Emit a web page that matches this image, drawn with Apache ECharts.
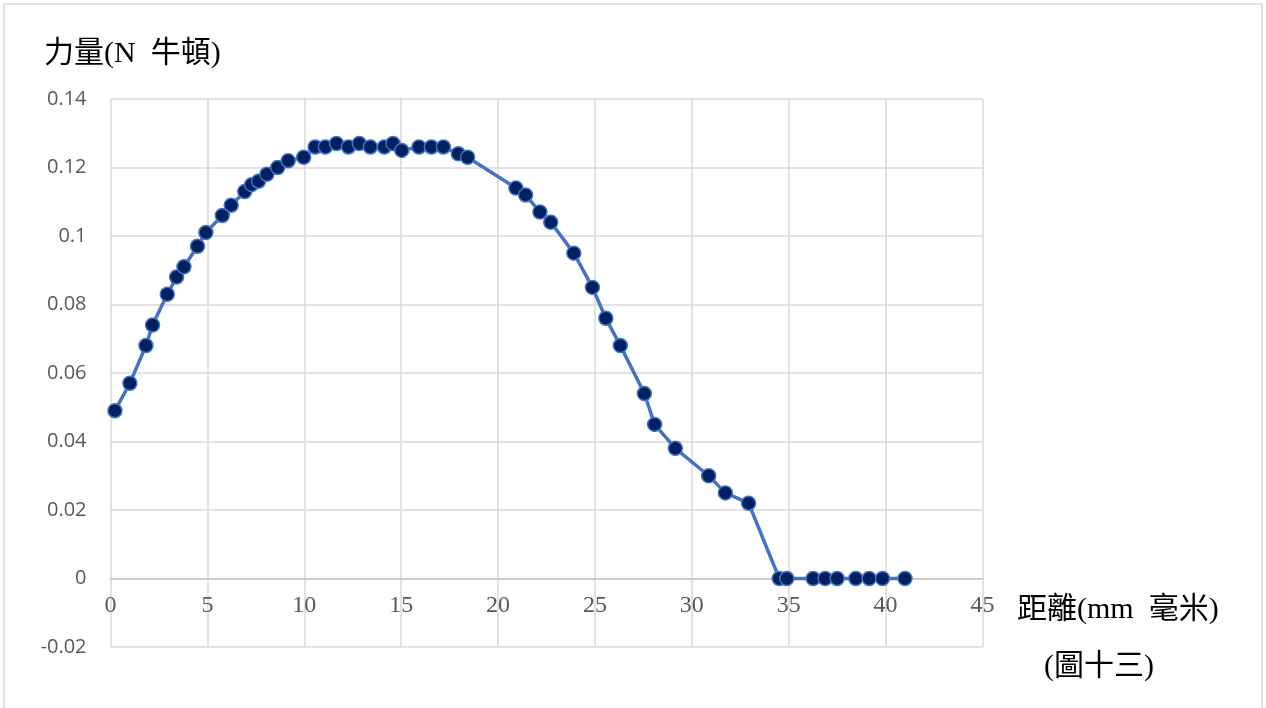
<!DOCTYPE html>
<html>
<head>
<meta charset="utf-8">
<script src="https://cdn.jsdelivr.net/npm/echarts@6/dist/echarts.min.js"></script>
<style>
html,body{margin:0;padding:0;background:#fff;}
#c{width:1266px;height:708px;}
</style>
</head>
<body>
<div id="c"></div>
<script>
// Distance (mm) values
const distance = [0.23, 1.0, 1.83, 2.17, 2.93, 3.41, 3.79, 4.49, 4.92, 5.77, 6.23, 6.93, 7.28, 7.64, 8.07, 8.63, 9.17, 9.97,
  10.56, 11.09, 11.66, 12.28, 12.84, 13.41, 14.13, 14.58, 15.03, 15.92, 16.56, 17.18, 17.95, 18.43,
  20.92, 21.42, 22.16, 22.72, 23.91, 24.87, 25.56, 26.31, 27.55, 28.08, 29.15, 30.87, 31.73, 32.93,
  34.51, 34.9, 36.26, 36.88, 37.5, 38.46, 39.15, 39.84, 41.0];
// Force (N) values
const force = [0.049, 0.057, 0.068, 0.074, 0.083, 0.088, 0.091, 0.097, 0.101, 0.106, 0.109, 0.113, 0.115, 0.116, 0.118, 0.120, 0.122, 0.123,
  0.126, 0.126, 0.127, 0.126, 0.127, 0.126, 0.126, 0.127, 0.125, 0.126, 0.126, 0.126, 0.124, 0.123,
  0.114, 0.112, 0.107, 0.104, 0.095, 0.085, 0.076, 0.068, 0.054, 0.045, 0.038, 0.030, 0.025, 0.022,
  0, 0, 0, 0, 0, 0, 0, 0, 0];
const yTitle = '力量(N  牛頓)';
const xTitle = '距離(mm  毫米)';
const figLabel = '(圖十三)';

const serif = "'Liberation Serif', 'Noto Sans CJK TC', serif";
const chart = echarts.init(document.getElementById('c'));
chart.setOption({
  animation: false,
  backgroundColor: '#fff',
  grid: { left: 110.5, right: 283.5, top: 99, bottom: 61, containLabel: false },
  xAxis: {
    type: 'value', min: 0, max: 45, interval: 5,
    offset: -68.5,
    axisLine: { show: true, onZero: false, lineStyle: { color: '#c4c4c4', width: 1.5 } },
    axisTick: { show: false },
    axisLabel: { color: '#595959', fontFamily: serif, fontSize: 24, margin: 15 },
    splitLine: { show: true, lineStyle: { color: '#d9d9d9', width: 1.5 } }
  },
  yAxis: {
    type: 'value', min: -0.02, max: 0.14, interval: 0.02,
    axisLine: { show: false },
    axisTick: { show: false },
    axisLabel: { color: '#595959', fontFamily: "'Open Sans', sans-serif", fontSize: 20, margin: 24 },
    splitLine: { show: true, lineStyle: { color: '#d9d9d9', width: 1.5 } }
  },
  series: [{
    type: 'line',
    data: distance.map((d, i) => [d, force[i]]),
    symbol: 'circle',
    symbolSize: 14,
    showAllSymbol: true,
    lineStyle: { color: '#4472c4', width: 3.5 },
    itemStyle: { color: '#002060', borderColor: '#4472c4', borderWidth: 1.5 }
  }],
  graphic: [
    { type: 'rect', shape: { x: 4, y: 4, width: 1258, height: 720 }, style: { fill: 'none', stroke: '#d9d9d9', lineWidth: 1.5 }, silent: true },
    { type: 'text', left: 44, top: 39, style: { text: yTitle, fontFamily: serif, fontSize: 30, fill: '#000' } },
    { type: 'text', left: 1017, top: 595, style: { text: xTitle, fontFamily: serif, fontSize: 30, fill: '#000' } },
    { type: 'text', left: 1044, top: 652, style: { text: figLabel, fontFamily: serif, fontSize: 30, fill: '#000' } }
  ]
});
</script>
</body>
</html>
